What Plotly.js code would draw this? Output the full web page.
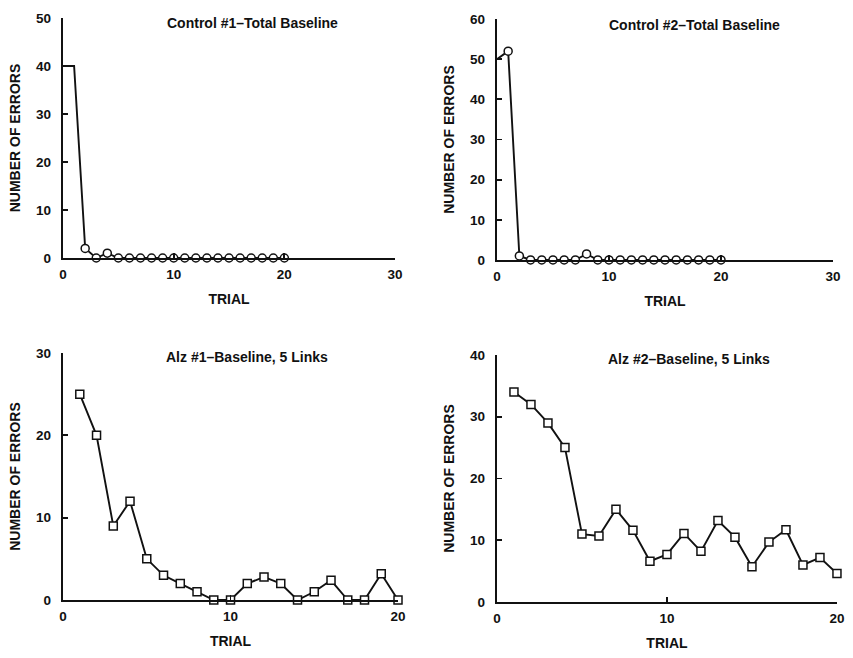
<!DOCTYPE html>
<html>
<head>
<meta charset="utf-8">
<script src="https://cdn.plot.ly/plotly-3.0.1.min.js"></script>
<style>html,body{margin:0;padding:0;background:#fff;}#chart{width:853px;height:658px;}</style>
</head>
<body>
<div id="chart"></div>
<script>
// ---- data ----
const titles = ["Control #1\u2013Total Baseline", "Control #2\u2013Total Baseline", "Alz #1\u2013Baseline, 5 Links", "Alz #2\u2013Baseline, 5 Links"];
const xTitle = "TRIAL";
const yTitle = "NUMBER OF ERRORS";

const trialsControl = [0,1,2,3,4,5,6,7,8,9,10,11,12,13,14,15,16,17,18,19,20];
const errorsControl1 = [40,40,2,0,1,0,0,0,0,0,0,0,0,0,0,0,0,0,0,0,0];
const errorsControl2 = [50,52,1,0,0,0,0,0,1.5,0,0,0,0,0,0,0,0,0,0,0,0];
const firstMarkedTrial1 = 2;
const firstMarkedTrial2 = 1;

const trialsAlz = [1,2,3,4,5,6,7,8,9,10,11,12,13,14,15,16,17,18,19,20];
const errorsAlz1 = [25,20,9,12,5,3,2,1,0,0,2,2.8,2,0,1,2.4,0,0,3.2,0];
const errorsAlz2 = [34,32,29,25,11,10.7,15,11.6,6.6,7.7,11.1,8.2,13.2,10.5,5.7,9.7,11.7,6,7.2,4.6];

const xTicksControl = [0,10,20,30];
const xTicksAlz = [0,10,20];
const yMax = [50,60,30,40];

// ---- styling ----
const INK = '#111111';
const FONT = 'Liberation Sans, Arial, Helvetica, sans-serif';
const MS = 8;

function trace(x, y, xa, ya, symbol, firstMarked) {
  const sizes = x.map(t => (firstMarked === undefined || t >= firstMarked) ? MS : 0);
  return {
    x: x, y: y, xaxis: xa, yaxis: ya, type: 'scatter', mode: 'lines+markers',
    line: {color: INK, width: 1.9},
    marker: {symbol: symbol, size: sizes, color: '#ffffff', opacity: 1, line: {color: INK, width: 1.5}},
    cliponaxis: false, showlegend: false, hoverinfo: 'x+y'
  };
}

const data = [
  trace(trialsControl, errorsControl1, 'x', 'y', 'circle', firstMarkedTrial1),
  trace(trialsControl, errorsControl2, 'x2', 'y2', 'circle', firstMarkedTrial2),
  trace(trialsAlz, errorsAlz1, 'x3', 'y3', 'square'),
  trace(trialsAlz, errorsAlz2, 'x4', 'y4', 'square')
];

const tickFont = {family: FONT, size: 13.5, color: INK, weight: 'bold'};
const labelFont = {family: FONT, size: 14, color: INK, weight: 'bold'};

function xaxis(domain, max, ticks, anchor) {
  return {
    domain: domain, range: [0, max], anchor: anchor,
    tickmode: 'array', tickvals: ticks, ticks: 'inside', ticklen: 5, tickwidth: 1.8, tickcolor: INK,
    showline: true, linewidth: 2.2, linecolor: INK, showgrid: false, zeroline: false,
    tickfont: tickFont, ticklabelstandoff: 3,
    title: {text: xTitle, font: labelFont, standoff: 13}
  };
}
function yaxis(domain, max, anchor) {
  return {
    domain: domain, range: [0, max], anchor: anchor, dtick: 10,
    ticks: 'inside', ticklen: 5, tickwidth: 1.8, tickcolor: INK,
    showline: true, linewidth: 2.2, linecolor: INK, showgrid: false, zeroline: false,
    tickfont: tickFont, ticklabelstandoff: 7,
    title: {text: yTitle, font: labelFont, standoff: 12}
  };
}

const titlePos = [
  {xref: 'x domain', yref: 'y domain', x: 0.572, y: 0.98},
  {xref: 'x2 domain', yref: 'y2 domain', x: 0.589, y: 0.975},
  {xref: 'x3 domain', yref: 'y3 domain', x: 0.549, y: 0.984},
  {xref: 'x4 domain', yref: 'y4 domain', x: 0.565, y: 0.984}
];

const layout = {
  width: 853, height: 658,
  margin: {l: 0, r: 0, t: 0, b: 0},
  paper_bgcolor: '#fff', plot_bgcolor: '#fff',
  font: {family: FONT, color: INK},
  xaxis:  xaxis([0.0739, 0.4631], 30, xTicksControl, 'y'),
  yaxis:  yaxis([0.6079, 0.9726], yMax[0], 'x'),
  xaxis2: xaxis([0.5826, 0.9766], 30, xTicksControl, 'y2'),
  yaxis2: yaxis([0.6049, 0.9711], yMax[1], 'x2'),
  xaxis3: xaxis([0.0739, 0.4666], 20, xTicksAlz, 'y3'),
  yaxis3: yaxis([0.0881, 0.4635], yMax[2], 'x3'),
  xaxis4: xaxis([0.5826, 0.9812], 20, xTicksAlz, 'y4'),
  yaxis4: yaxis([0.0851, 0.4605], yMax[3], 'x4'),
  annotations: titles.map((t, i) => Object.assign({
    text: t, showarrow: false, xanchor: 'center', yanchor: 'middle',
    font: labelFont
  }, titlePos[i]))
};

Plotly.newPlot('chart', data, layout, {displayModeBar: false, staticPlot: true});
</script>
</body>
</html>
